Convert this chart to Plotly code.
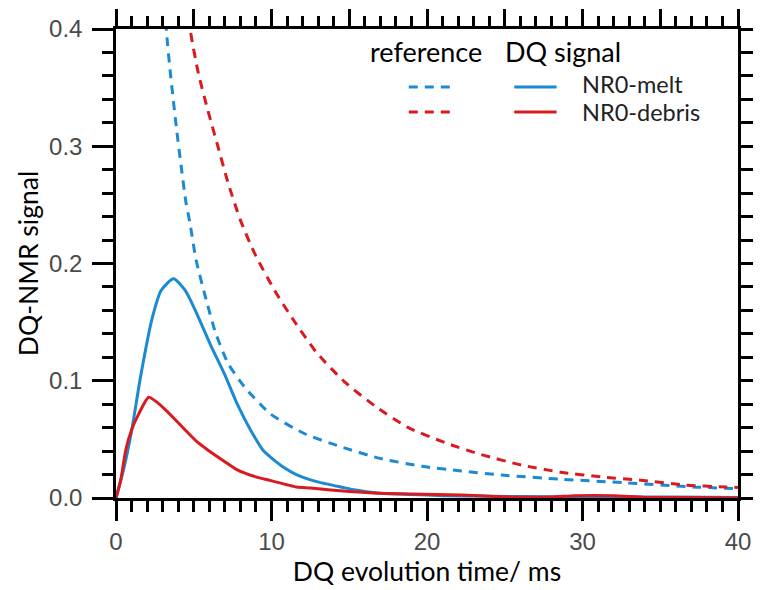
import plotly.graph_objects as go

# ---- data ----
melt_dq_t = [0, 0.5, 1.0, 1.6, 2.3, 2.9, 3.7, 4.45, 5.1, 6.1, 7.0, 7.8, 8.65, 9.5,
             10.8, 11.6, 12.9, 14.6, 15.4, 17, 19, 21, 24, 28, 32, 36, 40]
melt_dq_s = [0, 0.025, 0.057, 0.105, 0.152, 0.177, 0.187, 0.177, 0.160, 0.130, 0.105,
             0.080, 0.058, 0.040, 0.026, 0.020, 0.014, 0.009, 0.0068, 0.004, 0.003,
             0.002, 0.0015, 0.001, 0.001, 0.0008, 0.0005]

debris_dq_t = [0, 0.3, 0.63, 1.0, 1.47, 2.1, 2.6, 3.2, 3.8, 4.45, 5.2, 5.9, 7.0, 7.8,
               9.0, 9.9, 11.6, 12.5, 13.8, 15, 16.9, 19, 22.2, 25, 28, 29.5, 32, 34, 37, 40]
debris_dq_s = [0, 0.015, 0.041, 0.058, 0.072, 0.086, 0.082, 0.075, 0.067, 0.058, 0.048,
               0.041, 0.031, 0.024, 0.018, 0.015, 0.0094, 0.0085, 0.0068, 0.0055, 0.004,
               0.0035, 0.0026, 0.001, 0.0008, 0.002, 0.002, 0.0005, 0.0005, 0.0]

melt_ref_t = [3.15, 3.25, 3.5, 3.9, 4.2, 4.5, 4.75, 5.15, 5.8, 6.4, 7.2, 8.25, 9.9, 12.1,
              14.4, 16.9, 19.7, 22.2, 24.8, 28.6, 32.8, 37.1, 40]
melt_ref_s = [0.42, 0.397, 0.362, 0.314, 0.282, 0.252, 0.235, 0.203, 0.169, 0.141, 0.115,
              0.095, 0.072, 0.055, 0.044, 0.034, 0.027, 0.023, 0.0196, 0.016, 0.013,
              0.0094, 0.008]

debris_ref_t = [4.7, 4.8, 5.3, 5.9, 6.55, 7.2, 8.0, 8.9, 10.2, 11.4, 12.9, 14.7, 16.7,
                18.8, 21.2, 23.5, 26.1, 28.6, 31.2, 33.9, 36.6, 39.2, 40]
debris_ref_s = [0.41, 0.397, 0.362, 0.331, 0.30, 0.269, 0.237, 0.209, 0.177, 0.152, 0.124,
                0.099, 0.078, 0.060, 0.047, 0.037, 0.028, 0.022, 0.018, 0.015, 0.011,
                0.0094, 0.009]

x_range = [0, 40]
y_range = [0, 0.4]
x_title = "DQ evolution time/ ms"
y_title = "DQ-NMR signal"
legend_heads = ["reference", "DQ signal"]
legend_names = ["NR0-melt", "NR0-debris"]

BLUE = "#1B8AD3"
RED = "#D91A1F"
DASH = "9px,7px"
TITLE_FONT = "Lato"

fig = go.Figure()
fig.add_trace(go.Scatter(x=melt_ref_t, y=melt_ref_s, mode="lines",
                         line=dict(color=BLUE, width=3, dash=DASH, shape="spline", smoothing=0.6),
                         showlegend=False))
fig.add_trace(go.Scatter(x=debris_ref_t, y=debris_ref_s, mode="lines",
                         line=dict(color=RED, width=3, dash=DASH, shape="spline", smoothing=0.6),
                         showlegend=False))
fig.add_trace(go.Scatter(x=melt_dq_t, y=melt_dq_s, mode="lines",
                         line=dict(color=BLUE, width=3, shape="spline", smoothing=0.6),
                         showlegend=False))
fig.add_trace(go.Scatter(x=debris_dq_t, y=debris_dq_s, mode="lines",
                         line=dict(color=RED, width=3, shape="spline", smoothing=0.6),
                         showlegend=False))
# carrier for the mirrored (top/right) tick axes
fig.add_trace(go.Scatter(x=melt_dq_t, y=melt_dq_s, xaxis="x2", yaxis="y2", mode="lines",
                         line=dict(width=0), opacity=0, hoverinfo="skip", showlegend=False))

tick_font = dict(family="Liberation Sans", size=24, color="#4a4a4a")
common = dict(showline=True, linecolor="black", linewidth=2.5, ticks="outside",
              tickcolor="black", tickwidth=2.5, showgrid=False, zeroline=False)

fig.update_layout(
    width=763, height=590, margin=dict(l=116, r=16, t=29, b=92),
    paper_bgcolor="white", plot_bgcolor="white",
    xaxis=dict(range=x_range, dtick=10, ticklen=20, tickfont=tick_font,
               minor=dict(dtick=1, ticklen=11, tickwidth=2.5, tickcolor="black", ticks="outside"),
               title=dict(text=x_title, font=dict(family=TITLE_FONT, size=26.5, color="black"),
                          standoff=4), **common),
    yaxis=dict(range=y_range, dtick=0.1, ticklen=21, tickfont=tick_font, tickformat=".1f",
               ticklabelstandoff=5,
               minor=dict(dtick=0.02, ticklen=11, tickwidth=2.5, tickcolor="black", ticks="outside"),
               title=dict(text=y_title, font=dict(family=TITLE_FONT, size=26.5, color="black"),
                          standoff=3), **common),
    xaxis2=dict(range=x_range, overlaying="x", side="top", dtick=5, ticklen=17,
                showticklabels=False,
                minor=dict(dtick=1, ticklen=10, tickwidth=2.5, tickcolor="black", ticks="outside"),
                **common),
    yaxis2=dict(range=y_range, overlaying="y", side="right", dtick=0.1, ticklen=12,
                showticklabels=False,
                minor=dict(dtick=0.02, ticklen=12, tickwidth=2.5, tickcolor="black", ticks="outside"),
                **common),
)

# ---- custom two-column legend ----
head_font = dict(family=TITLE_FONT, size=27, color="black")
item_font = dict(family=TITLE_FONT, size=23.5, color="#222222")
fig.add_annotation(xref="paper", yref="paper", x=0.4976, y=0.951, text=legend_heads[0],
                   showarrow=False, font=head_font, xanchor="center", yanchor="middle")
fig.add_annotation(xref="paper", yref="paper", x=0.7180, y=0.951, text=legend_heads[1],
                   showarrow=False, font=head_font, xanchor="center", yanchor="middle")
rows = [(0.8763, 0.8827, BLUE, legend_names[0]), (0.823, 0.823, RED, legend_names[1])]
for yy, ty, col, name in rows:
    fig.add_shape(type="line", xref="paper", yref="paper", x0=0.4707, x1=0.5452, y0=yy, y1=yy,
                  line=dict(color=col, width=3, dash=DASH))
    fig.add_shape(type="line", xref="paper", yref="paper", x0=0.6403, x1=0.7084, y0=yy, y1=yy,
                  line=dict(color=col, width=3))
    fig.add_annotation(xref="paper", yref="paper", x=0.7464, y=ty, text=name,
                       showarrow=False, font=item_font, xanchor="left", yanchor="middle",
                       height=24)

fig.write_html("out.html")
